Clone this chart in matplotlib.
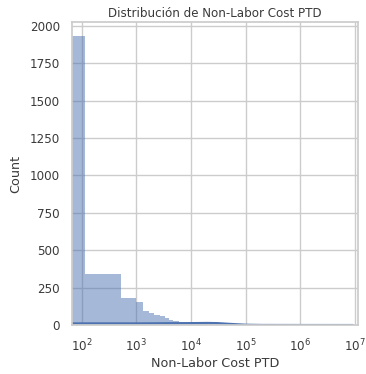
import numpy as np
import matplotlib
matplotlib.use("Agg")
import matplotlib.pyplot as plt
import seaborn as sns

# Histogram bins (Non-Labor Cost PTD) and counts per bin
bin_edges = [40, 115, 523, 982, 1336, 1722, 2100, 2700, 3330, 3992, 4725,
             6087, 9550, 20000, 50000, 100000, 9.1e6]
counts = [1930, 340, 180, 155, 95, 82, 70, 57, 45, 35, 25, 18, 12, 6, 3, 1]

# Smoothed density curve, scaled to counts
kde_x = [40, 100, 1000, 3000, 10000, 20000, 30000, 50000, 100000, 200000,
         1e6, 9.1e6]
kde_y = [11, 11, 11, 12, 13, 14, 13, 8, 2, 0.6, 0.3, 0.2]

sns.set_theme(style="whitegrid")
plt.rcParams["font.family"] = ["DejaVu Sans"]

fig = plt.figure(figsize=(3.66, 3.74), dpi=100)
ax = fig.add_axes([0.1975, 0.131, 0.7815, 0.81])

color = sns.color_palette("deep")[0]
lefts = np.array(bin_edges[:-1])
widths = np.diff(bin_edges)
ax.bar(lefts, counts, width=widths, align="edge", color=color, alpha=0.5,
       linewidth=0)
ax.plot(kde_x, kde_y, color=color, linewidth=1.5)

ax.set_xscale("log")
ax.set_xlim(67, 1.15e7)
ax.set_ylim(0, 2026)
ax.set_yticks([0, 250, 500, 750, 1000, 1250, 1500, 1750, 2000])
ax.tick_params(labelsize=8.6, pad=3, labelcolor="#3a3a3a")
ax.set_xlabel("Non-Labor Cost PTD", fontsize=9.2, labelpad=2, color="#3a3a3a")
ax.set_ylabel("Count", fontsize=9.2, labelpad=5, color="#3a3a3a")
ax.set_title("Distribución de Non-Labor Cost PTD", fontsize=8.6, pad=4,
             color="#3a3a3a")

fig.savefig("out.png", dpi=100)
